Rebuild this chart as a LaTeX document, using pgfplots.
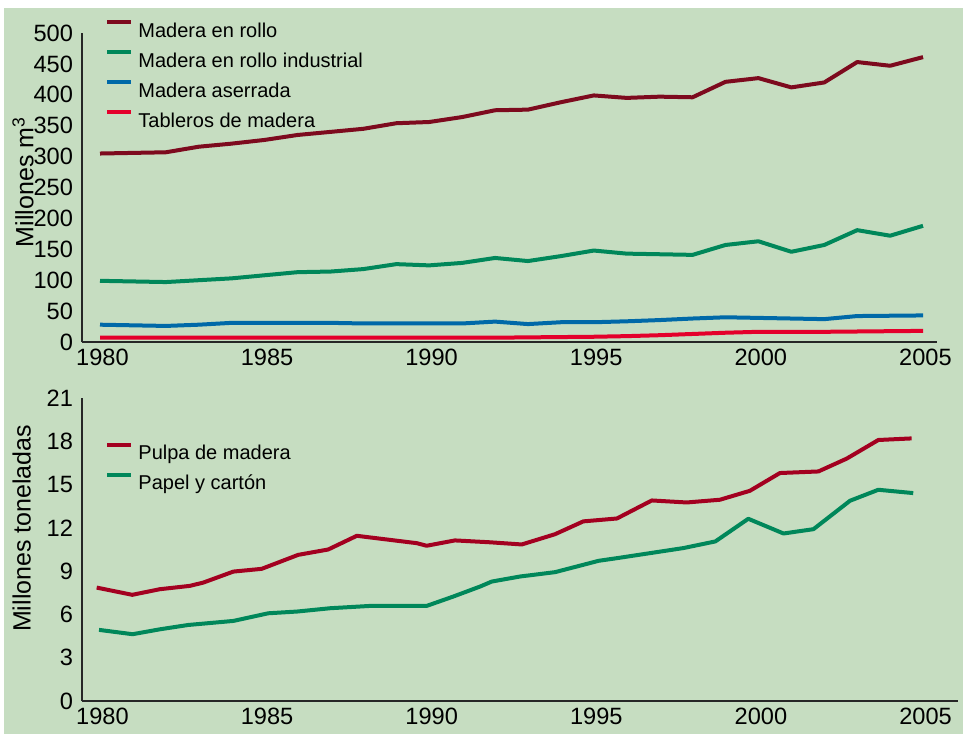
\documentclass[border=0pt]{standalone}
\usepackage{fontspec}
\setmainfont{Liberation Sans}
\usepackage{pgfplots}
\pgfplotsset{compat=1.18}
\definecolor{bg}{HTML}{C6DDC1}
\definecolor{cRollo}{HTML}{7D0A1E}
\definecolor{cInd}{HTML}{00875A}
\definecolor{cAse}{HTML}{0069A8}
\definecolor{cTab}{HTML}{E4002B}
\definecolor{cPulpa}{HTML}{A30020}

\pgfplotstableread{
year rollo ind ase tab
1980 305 99 28 7
1981 306 98 27 7
1982 307 97 26 7
1983 316 100 28 7
1984 321 103 31 7
1985 327 108 31 7
1986 335 113 31 7
1987 340 114 31 7
1988 345 118 30 7
1989 354 126 30 7
1990 356 124 30 7
1991 364 128 30 7
1992 375 136 33 7
1993 376 131 29 7.5
1994 388 139 32 8
1995 399 148 32 8.5
1996 395 143 33.5 9.5
1997 397 142 35.5 11
1998 396 141 38 13
1999 421 157 40 15
2000 427 163 39 16.5
2001 412 146 38 16.5
2002 420 157 37 16.5
2003 453 181 42 17
2004 447 172 42.5 17.5
2005 461 188 43 18
}\topdata

\pgfplotstableread{
x y
1979.90 7.86
1980.98 7.36
1981.82 7.75
1982.73 7.98
1983.14 8.21
1984.05 8.97
1984.91 9.16
1986.02 10.13
1986.93 10.50
1987.80 11.45
1989.62 10.94
1989.92 10.76
1990.78 11.13
1991.85 11.00
1992.81 10.85
1993.82 11.56
1994.68 12.45
1995.70 12.65
1996.76 13.90
1997.82 13.76
1998.83 13.95
1999.74 14.57
2000.65 15.80
2001.82 15.91
2002.68 16.80
2003.64 18.09
2004.65 18.20
}\pulpa

\pgfplotstableread{
x y
1979.97 4.93
1980.99 4.63
1981.82 4.97
1982.68 5.27
1984.05 5.55
1985.11 6.08
1985.98 6.20
1986.99 6.43
1988.20 6.59
1989.92 6.59
1990.73 7.24
1991.54 7.93
1991.90 8.28
1992.76 8.63
1993.82 8.93
1995.15 9.72
1995.70 9.90
1996.71 10.25
1997.72 10.60
1998.69 11.06
1999.69 12.63
2000.76 11.61
2001.67 11.91
2002.78 13.88
2003.64 14.64
2004.70 14.41
}\papel

\pgfplotsset{
  common/.style={
    scale only axis,
    axis x line=bottom,
    axis y line=left,
    axis line style={-, line width=1pt, black!85},
    major tick length=0pt,
    xtick={1980,1985,...,2005},
    /pgf/number format/set thousands separator={},
    /pgf/number format/assume math mode=true,
    tick label style={font=\fontsize{11.8}{12}\selectfont},
    y tick label style={xshift=-1pt},
    x tick label style={xshift=1.2pt},
    ylabel style={font=\fontsize{12.5}{14}\selectfont, anchor=north, inner sep=0pt},
    legend cell align=left,
    legend style={draw=none, fill=none, inner sep=0pt, row sep=0pt,
      font=\fontsize{10}{12}\selectfont,
      nodes={text height=7.5pt, text depth=2.5pt, inner sep=2.5pt},
      anchor=north west},
    legend image code/.code={
      \draw[#1] (0pt,4.8pt) -- (9pt,4.8pt);
      \path (0pt,4.8pt) -- (12pt,4.8pt);
    },
    every axis plot/.append style={line width=2pt, line join=round, no markers},
  }
}

\begin{document}
\begin{tikzpicture}
\fill[white] (0pt,0pt) rectangle (481.5pt,-367pt);
\fill[bg] (2pt,-4pt) rectangle (481.5pt,-367pt);

\begin{axis}[common,
  at={(41pt,-171pt)}, anchor=south west,
  width=427.5pt, height=154.5pt,
  xmin=1979.453, xmax=2005.425,
  ymin=0, ymax=500, ytick={0,50,...,500},
  ylabel={Millones m\textsuperscript{3}},
  ylabel style={at={(axis description cs:-0.0819,0.518)}},
  legend style={at={(axis description cs:0.0269,1.053)}},
]
\addplot[cRollo] table[x=year, y=rollo] {\topdata};
\addlegendentry{Madera en rollo}
\addplot[cInd] table[x=year, y=ind] {\topdata};
\addlegendentry{Madera en rollo industrial}
\addplot[cAse] table[x=year, y=ase] {\topdata};
\addlegendentry{Madera aserrada}
\addplot[cTab] table[x=year, y=tab] {\topdata};
\addlegendentry{Tableros de madera}
\end{axis}

\begin{axis}[common,
  at={(41pt,-350.5pt)}, anchor=south west,
  width=438pt, height=151.5pt,
  xmin=1979.453, xmax=2006.06,
  ymin=0, ymax=21, ytick={0,3,...,21},
  ylabel={Millones toneladas},
  ylabel style={at={(axis description cs:-0.0799,0.57)}},
  legend style={at={(axis description cs:0.0263,0.8647)}},
]
\addplot[cPulpa] table[x=x, y=y] {\pulpa};
\addlegendentry{Pulpa de madera}
\addplot[cInd] table[x=x, y=y] {\papel};
\addlegendentry{Papel y cartón}
\end{axis}
\end{tikzpicture}
\end{document}
